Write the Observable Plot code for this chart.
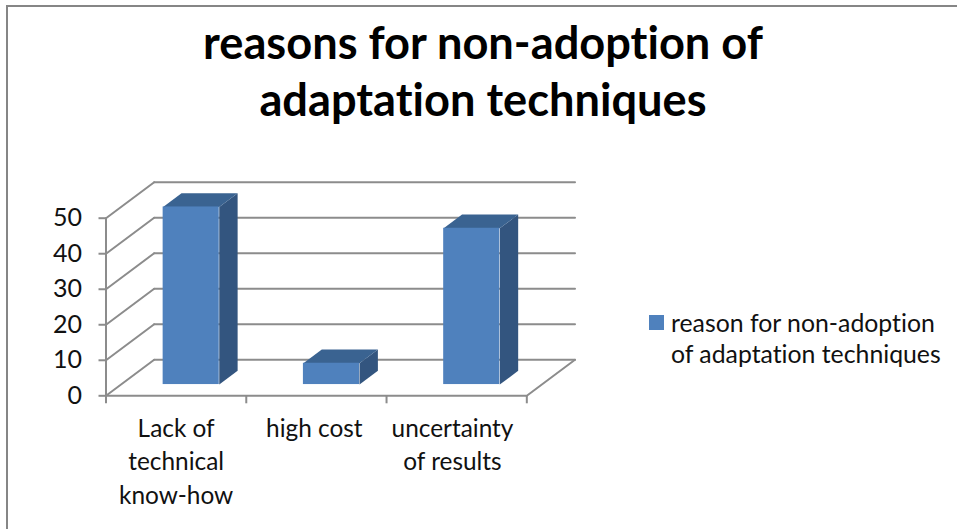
<!DOCTYPE html>
<html>
<head>
<meta charset="utf-8">
<script src="https://cdn.jsdelivr.net/npm/d3@7"></script>
<script src="https://cdn.jsdelivr.net/npm/@observablehq/plot@0.6"></script>
<style>
  html, body { margin: 0; padding: 0; background: #fff; }
  #chart { position: relative; width: 957px; height: 529px; overflow: hidden; font-family: Lato, sans-serif; color: #111; font-variant-ligatures: none; }
  #chart svg text { font-variant-ligatures: none; }
  #frame { position: absolute; left: 6px; top: 5px; width: 960px; height: 540px; border: 2px solid #868686; box-sizing: border-box; }
  #title { position: relative; margin: 0; height: 130px; box-sizing: border-box; padding-top: 13px; padding-left: 9px; text-align: center; font-size: 45.2px; font-weight: 700; line-height: 57px; color: #000; }
  #plot { position: relative; }
  #plot svg { display: block; background: transparent; }
  #legend { position: absolute; left: 649px; top: 307px; font-size: 24.8px; line-height: 31px; }
  #legend i { position: absolute; left: 0; top: 8px; width: 15px; height: 15px; background: #4F81BD; }
  #legend span { display: block; margin-left: 22px; white-space: pre; }
</style>
</head>
<body>
<div id="chart">
  <div id="frame"></div>
  <h1 id="title">reasons for non-adoption of<br>adaptation techniques</h1>
  <div id="plot"></div>
  <div id="legend"><i></i><span id="legendText"></span></div>
</div>
<script>
const categories = ["Lack of\ntechnical\nknow-how", "high cost", "uncertainty\nof results"];
const values = [50, 6, 44];
const yTicks = [0, 10, 20, 30, 40, 50];
const seriesName = "reason for non-adoption\nof adaptation techniques";

document.getElementById("legendText").textContent = seriesName;

// Oblique projection, in data units: one whole depth of the 3-D box
const DX = 0.3435, DV = 10.13;
const project = (c, v, d) => ({x: c + d * DX, y: v + d * DV});
const D0 = 0.3125, D1 = 0.694, HALF = 0.2;

const grid = [];
yTicks.forEach(v => {
  // diagonal on the side wall, then the line on the back wall
  grid.push({id: "s" + v, ...project(0, v, 0)}, {id: "s" + v, ...project(0, v, 1)});
  grid.push({id: "b" + v, ...project(0, v, 1)}, {id: "b" + v, ...project(3, v, 1)});
});
const floor = [
  {id: "f", ...project(0, 0, 0)}, {id: "f", ...project(3, 0, 0)}, {id: "f", ...project(3, 0, 1)}
];

const sides = [], tops = [], fronts = [];
values.forEach((v, i) => {
  const a = i + 0.5 - HALF, b = i + 0.5 + HALF;
  fronts.push({x1: project(a, 0, D0).x, x2: project(b, 0, D0).x, y1: project(a, 0, D0).y, y2: project(a, v, D0).y});
  [[b, 0, D0], [b, 0, D1], [b, v, D1], [b, v, D0]].forEach(p => sides.push({id: i, ...project(...p)}));
  [[a, v, D0], [b, v, D0], [b, v, D1], [a, v, D1]].forEach(p => tops.push({id: i, ...project(...p)}));
});

const offset = 130;          // height of the title above the SVG
const height = 529 - offset;
const axisColor = "#8c8c8c";

const plot = Plot.plot({
  width: 957, height,
  marginLeft: 106.5, marginRight: 382, marginTop: 0, marginBottom: 133.7,
  style: {fontFamily: "Lato, sans-serif", overflow: "visible"},
  x: {domain: [0, 3 + DX], range: [105.5, 574.5]},
  y: {domain: [0, 50], range: [395.3 - offset, 217.7 - offset]},
  marks: [
    Plot.line(grid, {x: "x", y: "y", z: "id", stroke: axisColor, strokeWidth: 2}),
    Plot.line(floor, {x: "x", y: "y", z: "id", stroke: axisColor, strokeWidth: 2}),
    Plot.ruleX([0], {y1: 0, y2: 50, stroke: axisColor, strokeWidth: 2}),
    Plot.axisY({ticks: yTicks, anchor: "left", tickSize: 8, tickPadding: 17, stroke: axisColor, strokeWidth: 2,
      fill: "#111", fontSize: 25, label: null}),
    Plot.axisX({ticks: [0, 1, 2, 3], anchor: "bottom", tickSize: 8, stroke: axisColor, strokeWidth: 2,
      tickFormat: () => "", label: null}),
    Plot.line(sides, {x: "x", y: "y", z: "id", fill: "#33557F", stroke: "none"}),
    Plot.line(tops, {x: "x", y: "y", z: "id", fill: "#3A6391", stroke: "none"}),
    Plot.rect(fronts, {x1: "x1", x2: "x2", y1: "y1", y2: "y2", fill: "#4F81BD", inset: 0}),
    Plot.text(categories, {x: (d, i) => i * 0.985 + 0.5, y: 0, text: d => d, dy: 17, lineAnchor: "top", lineHeight: 1.38,
      fontSize: 24.4, fill: "#111"})
  ]
});
document.getElementById("plot").append(plot);
</script>
</body>
</html>
